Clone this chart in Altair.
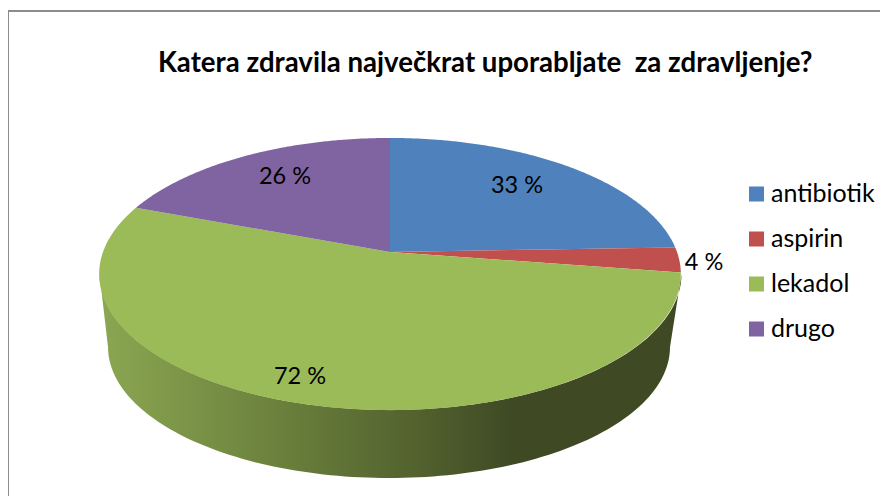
import math
import altair as alt

TITLE = "Katera zdravila največkrat uporabljate\u00a0 za zdravljenje?"
categories = ["antibiotik", "aspirin", "lekadol", "drugo"]
values = [33, 4, 72, 26]
labels = ["33 %", "4 %", "72 %", "26 %"]
colors = ["#4f81bd", "#c0504d", "#9bbb59", "#8064a2"]

FONT = "Lato"
label_pos = [(517, 186), (704, 263), (300, 377), (285, 177)]
PROJ = dict(type="identity", scale=1, translate=[-8, -8])
W, H = 872, 488


def top(theta, r=1.0):
    """Perspective view of a point on the pie's top face (theta clockwise from 12 o'clock)."""
    u, v = r * math.sin(theta), r * math.cos(theta)
    d = 1 + 0.162 * v
    return [390 + 287 * u / d, (252 - 91.7 * v) / d]


def feature(name, ring):
    return {"type": "Feature", "properties": {"name": name},
            "geometry": {"type": "Polygon", "coordinates": [ring + [ring[0]]]}}


total = sum(values)
slices, start = [], 0.0
for name, val in zip(categories, values):
    end = start + val / total * 2 * math.pi
    n = max(3, int(val * 6))
    rim = [top(start + (end - start) * i / n) for i in range(n + 1)]
    slices.append(feature(name, [[390, 252]] + rim))
    start = end

# Side wall: front half of the top rim, then the smaller lower rim back again
tcx, tcy, trx, try_ = 390.5, 274, 291, 136
bcx, bcy, brx, bry = 389, 347, 281, 131
upper = [[tcx + trx * math.cos(math.pi * i / 120), tcy + try_ * math.sin(math.pi * i / 120)] for i in range(121)]
lower = [[bcx + brx * math.cos(math.pi * i / 120), bcy + bry * math.sin(math.pi * i / 120)] for i in range(120, -1, -1)]
wall = feature("wall", upper + lower)

wall_layer = alt.Chart(alt.Data(values=[wall])).mark_geoshape(
    strokeWidth=0,
    fill=alt.Gradient(
        gradient="linear", x1=0, x2=1, y1=0, y2=0,
        stops=[
            alt.GradientStop(offset=0, color="#8ba752"),
            alt.GradientStop(offset=0.344, color="#677c3a"),
            alt.GradientStop(offset=0.55, color="#52612e"),
            alt.GradientStop(offset=0.706, color="#3f4a25"),
            alt.GradientStop(offset=1, color="#3f4a25"),
        ],
    ),
).project(**PROJ)

pie_layer = alt.Chart(alt.Data(values=slices)).mark_geoshape(strokeWidth=0).encode(
    color=alt.Color(
        "properties.name:N",
        sort=categories,
        scale=alt.Scale(domain=categories, range=colors),
        legend=alt.Legend(
            title=None, orient="none", legendX=736, legendY=171,
            symbolType="square", symbolSize=225, symbolStrokeWidth=0,
            labelFont=FONT, labelFontSize=25, labelColor="#000000",
            labelOffset=2, rowPadding=15, labelLimit=200, clipHeight=30,
        ),
    )
).project(**PROJ)

layers = [wall_layer, pie_layer]

for text, (px, py) in zip(labels, label_pos):
    layers.append(
        alt.Chart(alt.Data(values=[{"t": text}])).mark_text(
            font=FONT, fontSize=23.5, color="#000000", align="center", baseline="middle"
        ).encode(text="t:N", x=alt.value(px - 8), y=alt.value(py - 8))
    )

# Outer frame, running off towards the right and bottom
layers.append(alt.Chart(alt.Data(values=[{"a": 1}])).mark_rule(color="#8c8c8c", strokeWidth=1).encode(
    x=alt.value(0.5), y=alt.value(3), y2=alt.value(H)))
layers.append(alt.Chart(alt.Data(values=[{"a": 1}])).mark_rule(color="#8c8c8c", strokeWidth=2).encode(
    x=alt.value(0), x2=alt.value(W), y=alt.value(3)))

chart = alt.layer(*layers).properties(
    width=W, height=H, padding=0, autosize=alt.AutoSizeParams(type="none"), background="#ffffff",
    title=alt.TitleParams(
        text=TITLE, anchor="start", frame="group", font=FONT, fontSize=27.6, fontWeight="bold",
        color="#000000", dx=150, dy=70, offset=0,
    ),
).configure_view(stroke=None)

chart.save("out.html", embed_options={"renderer": "svg", "actions": False})
